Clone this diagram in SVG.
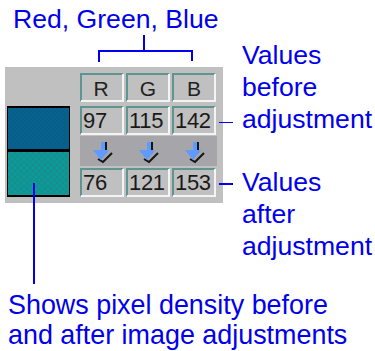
<svg xmlns="http://www.w3.org/2000/svg" width="375" height="351" viewBox="0 0 375 351">
<style>
.lbl{font-family:"Liberation Sans",Arial,sans-serif;font-size:26.6px;fill:#0000ee}
.lbl2{font-size:26.9px}
.val{font-family:"Liberation Sans",Arial,sans-serif;font-size:22px;fill:#1a1a1a;letter-spacing:-0.3px}
.hd{font-family:"Liberation Sans",Arial,sans-serif;font-size:21px;fill:#222;text-anchor:middle}
.cell{fill:#c0c0c0}
.tl{fill:none;stroke:#5f9590;stroke-width:2}
.br{fill:none;stroke:#f4f4f4;stroke-width:2}
.wire{fill:none;stroke:#0000ee;stroke-width:2}
.thin{fill:none;stroke:#0000ee;stroke-width:1}
.arr{fill:#5f9bff}
.arrs{fill:none;stroke:#151515;stroke-width:2}
</style>
<defs>
<pattern id="p1" width="4" height="4" patternUnits="userSpaceOnUse"><rect width="4" height="4" fill="#056390"/><rect width="2" height="2" fill="#0a5d88"/><rect x="2" y="2" width="2" height="2" fill="#0a5d88"/></pattern>
<pattern id="p2" width="6" height="6" patternUnits="userSpaceOnUse"><rect width="6" height="6" fill="#0b9a98"/><path d="M0 0L6 6M6 0L0 6" stroke="#1a8a8a" stroke-width="1"/></pattern>
<g id="cellbox"><rect class="cell" x="0" y="0" width="43" height="28"/><path class="tl" d="M1 28V1H43"/><path class="br" d="M1 28H43V1"/></g>
<g id="downarrow"><path class="arrs" d="M21 4V15M27 15L18 24L13 21"/><path class="arr" d="M16 4H20V12H24L16 22L8 12H16Z"/></g>
</defs>
<g id="panel">
<rect x="5" y="67" width="218" height="136" fill="#c0c0c0"/>
<rect x="80" y="136" width="137" height="30" fill="#a5a5aa"/>
</g>
<g id="swatches">
<rect x="7" y="106" width="63" height="91" fill="#000"/>
<rect x="8" y="108" width="61" height="41" fill="url(#p1)"/>
<rect x="8" y="152" width="61" height="43" fill="url(#p2)"/>
</g>
<g id="header-r"><use href="#cellbox" x="80" y="73"/><text class="hd" x="101" y="96">R</text></g>
<g id="header-g"><use href="#cellbox" x="126" y="73"/><text class="hd" x="148" y="96">G</text></g>
<g id="header-b"><use href="#cellbox" x="172" y="73"/><text class="hd" x="194" y="96">B</text></g>
<g id="before-r"><use href="#cellbox" x="80" y="106"/><text class="val" x="83" y="128">97</text></g>
<g id="before-g"><use href="#cellbox" x="126" y="106"/><text class="val" x="129" y="128">115</text></g>
<g id="before-b"><use href="#cellbox" x="172" y="106"/><text class="val" x="175" y="128">142</text></g>
<g id="arrow-r"><use href="#downarrow" x="85" y="138"/></g>
<g id="arrow-g"><use href="#downarrow" x="131" y="138"/></g>
<g id="arrow-b"><use href="#downarrow" x="177" y="138"/></g>
<g id="after-r"><use href="#cellbox" x="80" y="168"/><text class="val" x="83" y="190">76</text></g>
<g id="after-g"><use href="#cellbox" x="126" y="168"/><text class="val" x="129" y="190">121</text></g>
<g id="after-b"><use href="#cellbox" x="172" y="168"/><text class="val" x="175" y="190">153</text></g>
<g id="connectors">
<path class="wire" d="M99 62V51H192V61M144 51V35"/>
<path class="thin" d="M219 122.500H233"/>
<path class="wire" d="M219 184H233"/>
<path class="wire" d="M34 183V284"/>
</g>
<g id="label-rgb"><text class="lbl" x="13" y="28">Red, Green, Blue</text></g>
<g id="label-before"><text class="lbl" x="242" y="64">Values</text><text class="lbl" x="242" y="96">before</text><text class="lbl" x="242" y="128">adjustment</text></g>
<g id="label-after"><text class="lbl" x="242" y="191">Values</text><text class="lbl" x="242" y="223">after</text><text class="lbl" x="242" y="255">adjustment</text></g>
<g id="label-density"><text class="lbl lbl2" x="8" y="314">Shows pixel density before</text><text class="lbl lbl2" x="8" y="344">and after image adjustments</text></g>
</svg>
